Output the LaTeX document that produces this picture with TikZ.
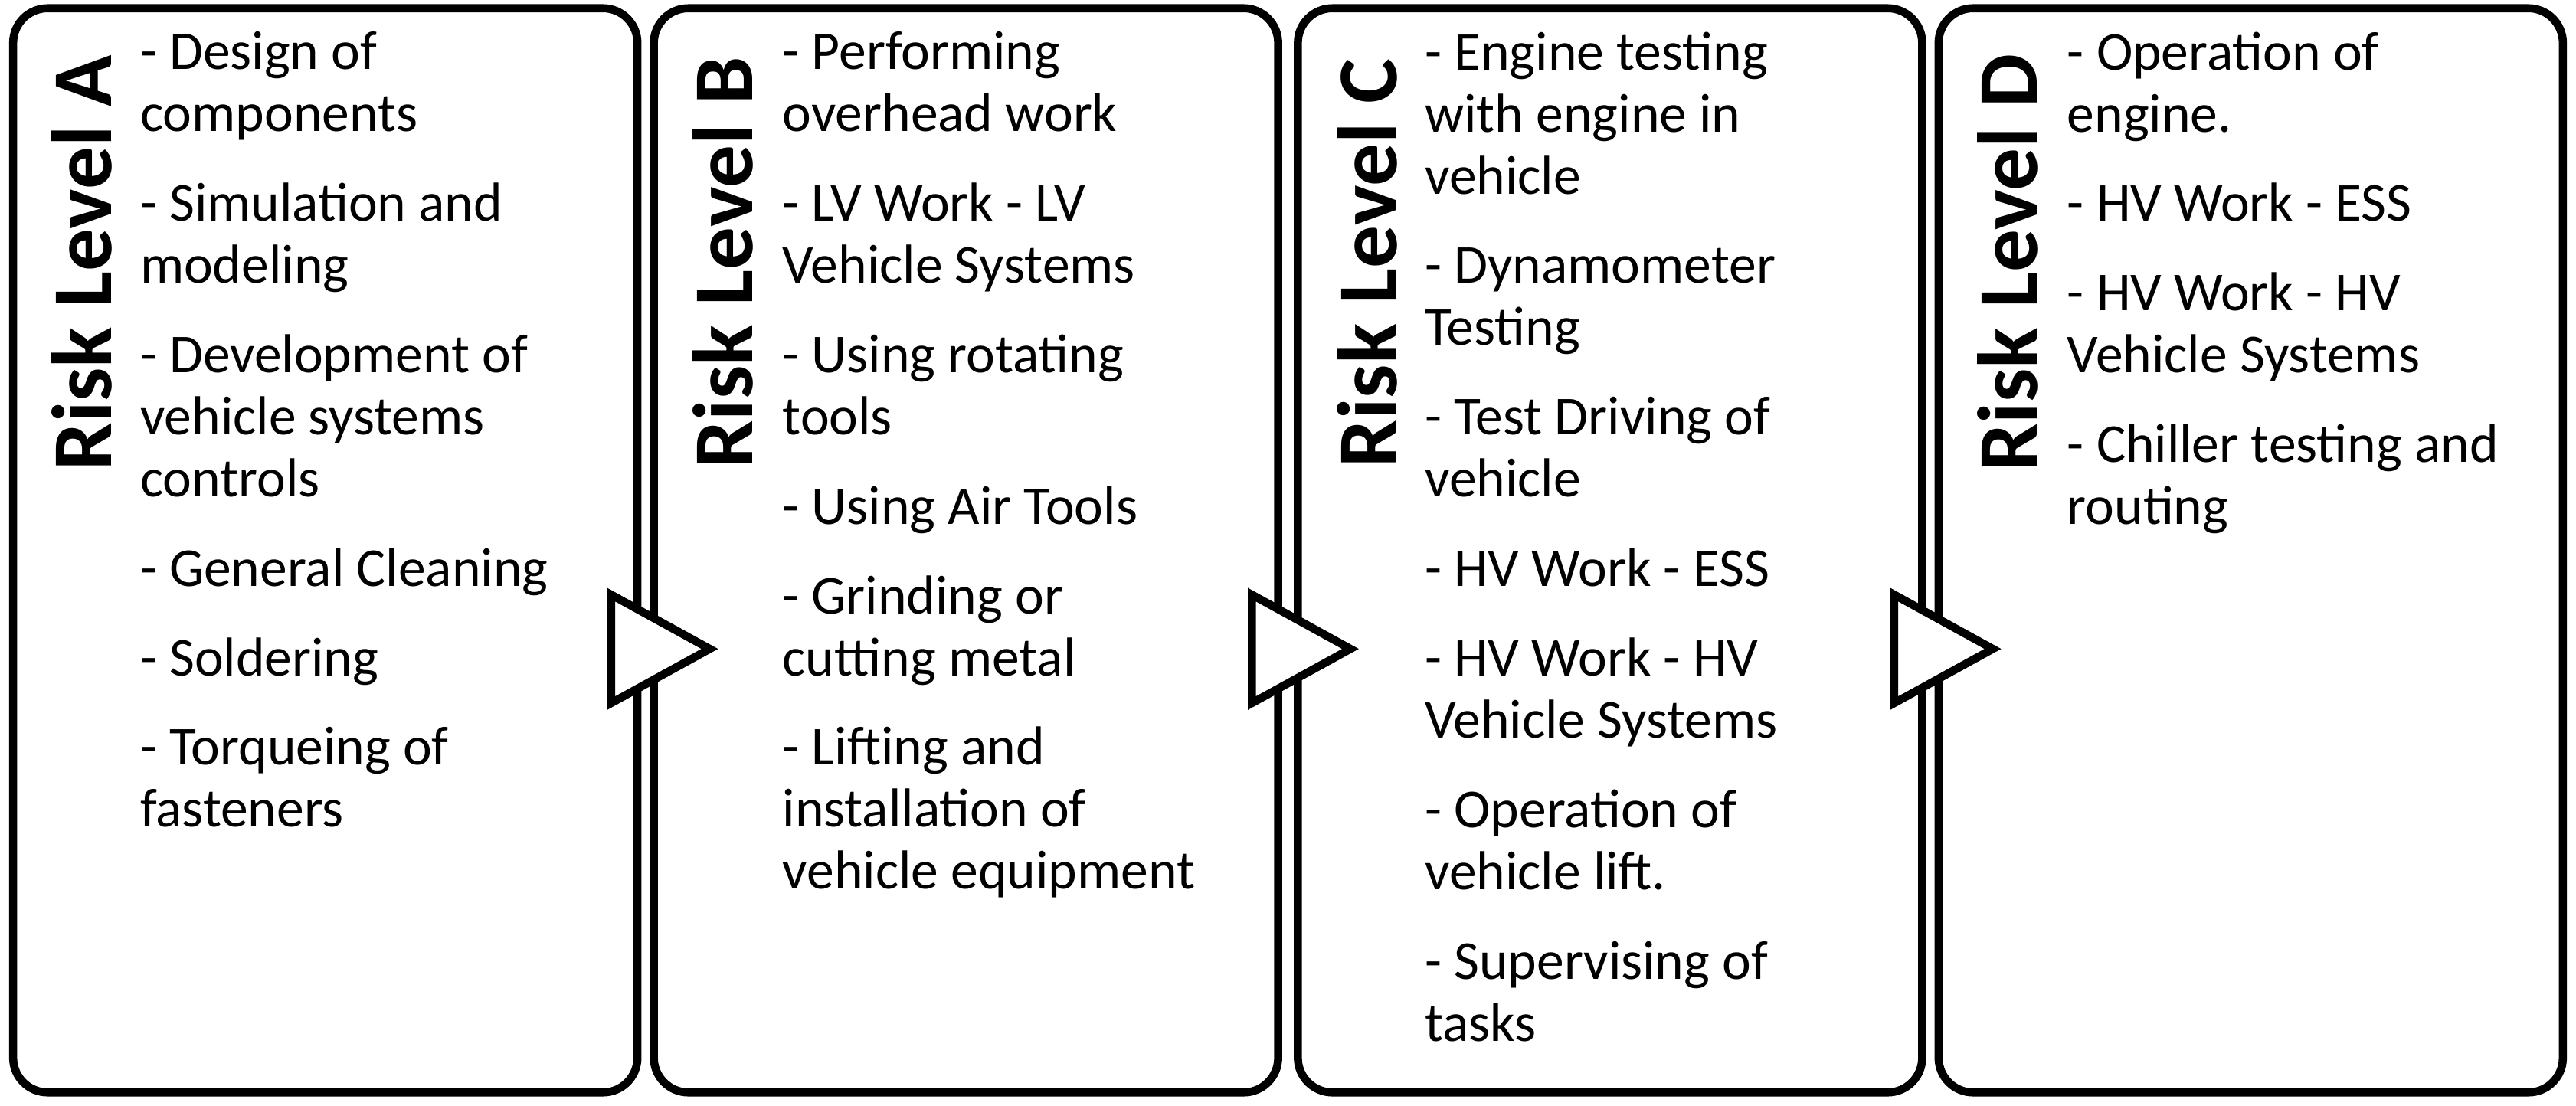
\documentclass[tikz,border=0pt]{standalone}
\usepackage{fontspec}
\setmainfont{Carlito}
\begin{document}
\begin{tikzpicture}[x=0.02cm,y=-0.02cm,
  box/.style={draw,line width=2.8pt,rounded corners=12pt},
  ttl/.style={rotate=90,font=\bfseries\fontsize{29.5}{32}\selectfont,anchor=center},
  txt/.style={anchor=north west,align=left,font=\fontsize{19}{21.5}\selectfont,inner sep=0pt},
  arr/.style={draw,fill=white,line width=2.8pt,line join=miter}]
\useasboundingbox (0,0) rectangle (1568,673);
\newcommand{\gap}{\\[9.5pt]}
\foreach \n/\x in {a/8,b/398,c/790,d/1180}{
  \draw[box] (\x,5) rectangle ++(380,660);
}
\node[ttl] (ta) at (50,160) {Risk Level A};
\node[ttl] (tb) at (440,160) {Risk Level B};
\node[ttl] (tc) at (832,160) {Risk Level C};
\node[ttl] (td) at (1222,160) {Risk Level D};
\node[txt] (la) at (85,19) {- Design of\\components\gap - Simulation and\\modeling\gap - Development of\\vehicle systems\\controls\gap - General Cleaning\gap - Soldering\gap - Torqueing of\\fasteners};
\node[txt] (lb) at (476,19) {- Performing\\overhead work\gap - LV Work - LV\\Vehicle Systems\gap - Using rotating\\tools\gap - Using Air Tools\gap - Grinding or\\cutting metal\gap - Lifting and\\installation of\\vehicle equipment};
\node[txt] (lc) at (867,19) {- Engine testing\\with engine in\\vehicle\gap - Dynamometer\\Testing\gap - Test Driving of\\vehicle\gap - HV Work - ESS\gap - HV Work - HV\\Vehicle Systems\gap - Operation of\\vehicle lift.\gap - Supervising of\\tasks};
\node[txt] (ld) at (1258,19) {- Operation of\\engine.\gap - HV Work - ESS\gap - HV Work - HV\\Vehicle Systems\gap - Chiller testing and\\routing};
\foreach \x in {372,762,1153}{
  \draw[arr] (\x,362) -- (\x,428) -- (\x+60,395) -- cycle;
}
\end{tikzpicture}
\end{document}
